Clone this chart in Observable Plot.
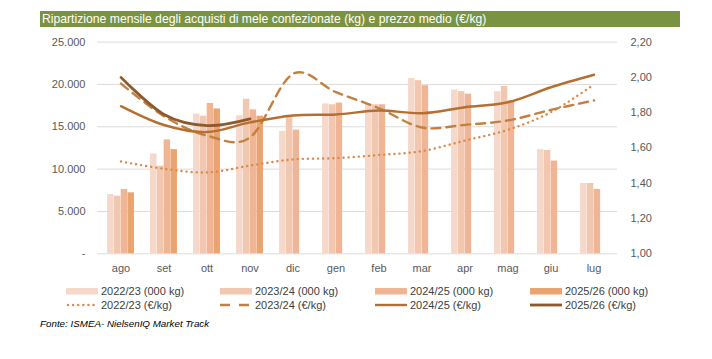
<!DOCTYPE html>
<html>
<head>
<meta charset="utf-8">
<script src="https://cdn.jsdelivr.net/npm/d3@7"></script>
<script src="https://cdn.jsdelivr.net/npm/@observablehq/plot@0.6"></script>
<style>
  html, body { margin: 0; padding: 0; background: #fff; }
  body { font-family: "Liberation Sans", Arial, sans-serif; }
  #wrap { position: relative; width: 712px; height: 359px; overflow: hidden; }
  #title { position: absolute; left: 40px; top: 11px; width: 640px; height: 16px; background: #7a9343; color: #fff; font-size: 12.2px; line-height: 16px; padding-left: 2px; box-sizing: border-box; white-space: nowrap; }
  #chart { position: absolute; left: 0; top: 0; }
  .leg { position: absolute; font-size: 11px; color: #404040; white-space: nowrap; line-height: 14px; }
  .leg svg { position: absolute; left: -35px; top: 0; }
  #source { position: absolute; left: 40px; top: 318px; font-size: 9.8px; font-style: italic; color: #000; white-space: nowrap; }
</style>
</head>
<body>
<div id="wrap">
  <div id="chart"></div>
  <div id="title">Ripartizione mensile degli acquisti di mele confezionate (kg) e prezzo medio (€/kg)</div>
  <div id="legend"></div>
  <div id="source">Fonte: ISMEA- NielsenIQ Market Track</div>
</div>
<script>
// ---- data ----
const months = ["ago","set","ott","nov","dic","gen","feb","mar","apr","mag","giu","lug"];
const seasons = ["2022/23","2023/24","2024/25","2025/26"];
// quantities (000 kg shown as units on left axis)
const kg2223 = [7000, 11800, 16500, 16300, 14450, 17700, 17700, 20700, 19350, 19150, 12300, 8300];
const kg2324 = [6800, 10350, 16250, 18250, 16250, 17600, 17600, 20450, 19150, 19750, 12200, 8300];
const kg2425 = [7600, 13450, 17750, 17000, 14600, 17800, 17600, 19850, 18850, 18100, 10950, 7600];
const kg2526 = [7200, 12300, 17100, 16250];
// average prices (€/kg)
const eur2223 = [1.523, 1.482, 1.461, 1.500, 1.535, 1.542, 1.560, 1.582, 1.642, 1.703, 1.803, 1.960];
const eur2324 = [1.965, 1.780, 1.670, 1.660, 2.020, 1.916, 1.825, 1.716, 1.731, 1.756, 1.816, 1.869];
const eur2425 = [1.837, 1.730, 1.690, 1.745, 1.784, 1.790, 1.812, 1.797, 1.831, 1.859, 1.944, 2.015];
const eur2526 = [2.000, 1.790, 1.727, 1.765];
const kgTicks = [0, 5000, 10000, 15000, 20000, 25000];
const priceTicks = [1.0, 1.2, 1.4, 1.6, 1.8, 2.0, 2.2];

// ---- styles ----
const barColors = ["#f5d8ca", "#f2c7b0", "#efb594", "#eaa46f"];
const lineColors = ["#d98b4e", "#c4803f", "#b57031", "#8e5a2b"];

const kgSeries = [kg2223, kg2324, kg2425, kg2526];
const eurSeries = [eur2223, eur2324, eur2425, eur2526];

const pMin = 1.0, pMax = 2.2, kMax = 25000;
const toKg = p => (p - pMin) / (pMax - pMin) * kMax;

const W = 712, H = 280;
const mL = 97, mR = 95, mT = 41.6, mB = 26.7;
const band = (W - mL - mR) / months.length;
const bw = 6.8;
const off = (band - 4 * bw) / 2;

const marks = [
  Plot.ruleY(kgTicks, {stroke: "#dcdcdc", strokeWidth: 1})
];
kgSeries.forEach((arr, i) => {
  const data = arr.map((v, j) => ({month: months[j], value: v}));
  marks.push(Plot.barY(data, {
    x: "month", y: "value", fill: barColors[i],
    insetLeft: off + i * bw, insetRight: band - off - (i + 1) * bw
  }));
});
const lineStyles = [
  {strokeWidth: 2.4, strokeDasharray: "0.1 5", strokeLinecap: "round"},
  {strokeWidth: 2.4, strokeDasharray: "9 6"},
  {strokeWidth: 2.4},
  {strokeWidth: 2.8}
];
eurSeries.forEach((arr, i) => {
  const data = arr.map((v, j) => ({month: months[j], price: v}));
  marks.push(Plot.line(data, {
    x: "month", y: d => toKg(d.price), stroke: lineColors[i], curve: "cardinal",
    ...lineStyles[i]
  }));
});
marks.push(
  Plot.axisY({ticks: kgTicks, tickSize: 0, tickPadding: 12, fontSize: 11, fill: "#595959",
    tickFormat: d => d === 0 ? "-" : d3.format(",")(d).replace(/,/g, "."), label: null}),
  Plot.axisY({anchor: "right", ticks: priceTicks.map(toKg), tickSize: 0, tickPadding: 13, fontSize: 11, fill: "#595959",
    tickFormat: k => (k / kMax * (pMax - pMin) + pMin).toFixed(2).replace(".", ","), label: null}),
  Plot.axisX({tickSize: 0, tickPadding: 10, fontSize: 11, fill: "#595959", label: null})
);

const chart = Plot.plot({
  width: W, height: H,
  marginLeft: mL, marginRight: mR, marginTop: mT, marginBottom: mB,
  style: {fontFamily: "'Liberation Sans', Arial, sans-serif", background: "transparent", overflow: "visible"},
  x: {type: "band", domain: months, padding: 0},
  y: {domain: [0, kMax]},
  marks
});
document.getElementById("chart").appendChild(chart);

// ---- legend ----
const legX = [101, 255, 410, 565];
const leg = document.getElementById("legend");
seasons.forEach((s, i) => {
  const d1 = document.createElement("div");
  d1.className = "leg";
  d1.style.left = legX[i] + "px"; d1.style.top = "284px";
  d1.innerHTML = `<svg width="34" height="14"><rect x="0" y="4" width="32" height="6.5" fill="${barColors[i]}"/></svg>${s} (000 kg)`;
  leg.appendChild(d1);
  const d2 = document.createElement("div");
  d2.className = "leg";
  d2.style.left = legX[i] + "px"; d2.style.top = "298px";
  const st = lineStyles[i];
  const extra = (st.strokeDasharray ? `stroke-dasharray="${i === 1 ? '10 9' : st.strokeDasharray}"` : "") + (st.strokeLinecap ? ` stroke-linecap="${st.strokeLinecap}"` : "");
  d2.innerHTML = `<svg width="34" height="14"><line x1="${i === 0 ? 2 : 0}" x2="32" y1="7" y2="7" stroke="${lineColors[i]}" stroke-width="${st.strokeWidth}" ${extra}/></svg>${s} (€/kg)`;
  leg.appendChild(d2);
});
</script>
</body>
</html>
